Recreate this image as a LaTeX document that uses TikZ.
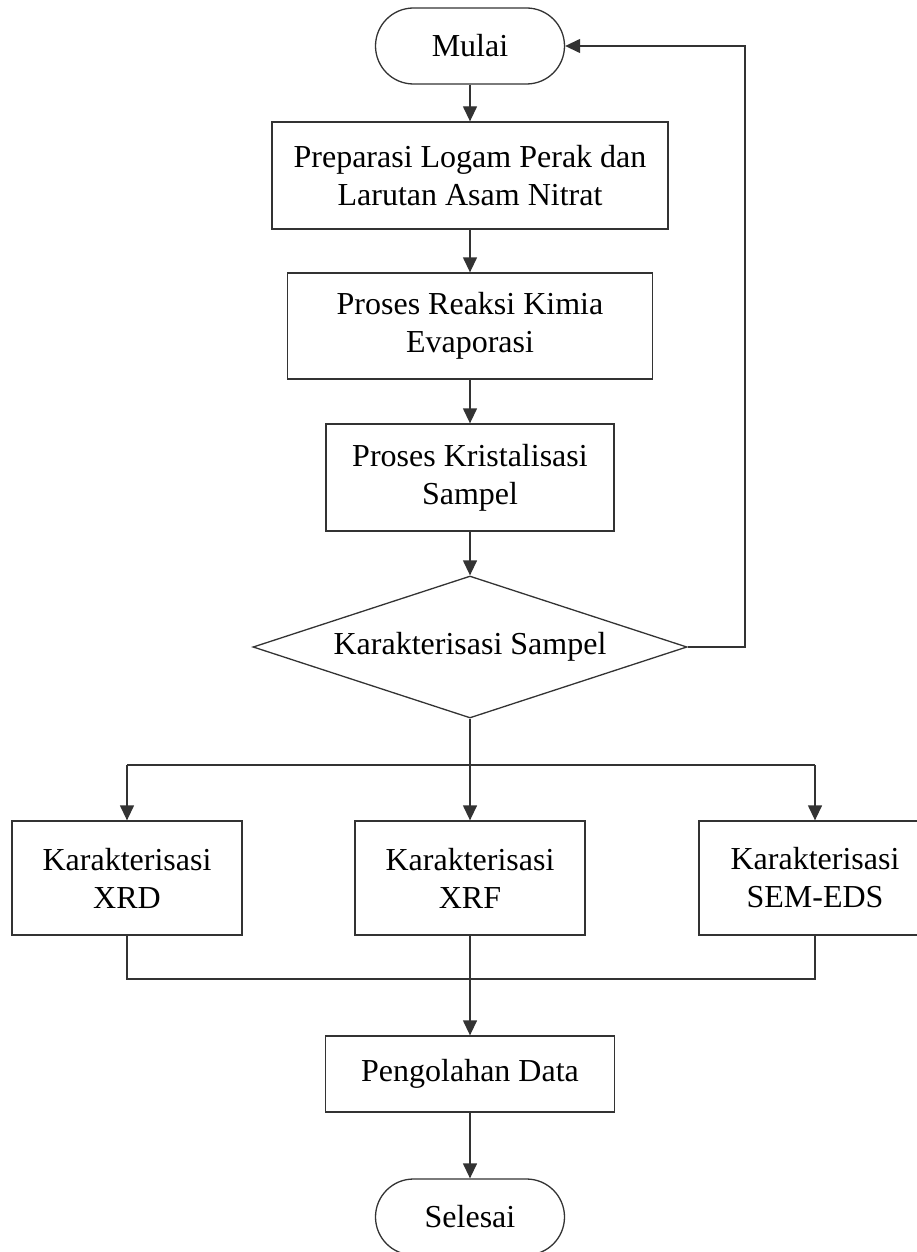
\documentclass[tikz,border=0pt]{standalone}
\usepackage{fontspec}
\setmainfont{Liberation Serif}
\usetikzlibrary{shapes.geometric,arrows.meta}
\begin{document}
\begin{tikzpicture}[x=1pt,y=-1pt,
  every node/.style={font=\fontsize{32}{38}\selectfont, align=center, inner sep=0pt},
  ln/.style={line width=1.3pt, draw=black!80},
  arr/.style={ln, -{Triangle[length=15pt,width=14pt]}},
  procbox/.style={ln, rectangle, fill=white},
  termbox/.style={ln, rectangle, rounded corners=38pt, minimum width=189pt, minimum height=76pt},
  decbox/.style={ln, diamond, aspect=3.06, minimum width=434pt, minimum height=142pt}
]
\useasboundingbox (0,0) rectangle (917,1252);
\node[termbox] (mulai) at (470,46) {Mulai};
\node[procbox, minimum width=396pt, minimum height=107pt] (prep) at (470,175.5) {Preparasi Logam Perak dan\\Larutan Asam Nitrat};
\node[procbox, minimum width=365pt, minimum height=106pt] (reak) at (470,326) {Proses Reaksi Kimia\\Evaporasi};
\node[procbox, minimum width=288pt, minimum height=107pt] (kris) at (470,477.5) {Proses Kristalisasi\\Sampel};
\node[decbox] (kar) at (470,647) {Karakterisasi Sampel};
\node[procbox, minimum width=230pt, minimum height=114pt] (xrd) at (127,878) {Karakterisasi\\XRD};
\node[procbox, minimum width=230pt, minimum height=114pt] (xrf) at (470,878) {Karakterisasi\\XRF};
\node[procbox, minimum width=232pt, minimum height=114pt] (sem) at (815,878) {Karakterisasi\\SEM-EDS};
\node[procbox, minimum width=289pt, minimum height=76pt] (olah) at (470,1074) {Pengolahan Data};
\node[termbox] (selesai) at (470,1217) {Selesai};

\coordinate (split) at (470,765);
\coordinate (join) at (470,979);
\coordinate (fb) at (745,647);

\draw[arr] (mulai) -- (prep);
\draw[arr] (prep) -- (reak);
\draw[arr] (reak) -- (kris);
\draw[arr] (kris) -- (kar);
\draw[arr] (kar.east) -- (fb) |- (mulai.east);
\draw[arr] (kar.south) -- (xrf.north);
\draw[ln] (xrd.north |- split) -- (sem.north |- split);
\draw[arr] (xrd.north |- split) -- (xrd.north);
\draw[arr] (sem.north |- split) -- (sem.north);
\draw[ln] (xrd.south) -- (xrd.south |- join) -- (sem.south |- join) -- (sem.south);
\draw[arr] (xrf.south) -- (olah.north);
\draw[arr] (olah) -- (selesai);
\end{tikzpicture}
\end{document}
